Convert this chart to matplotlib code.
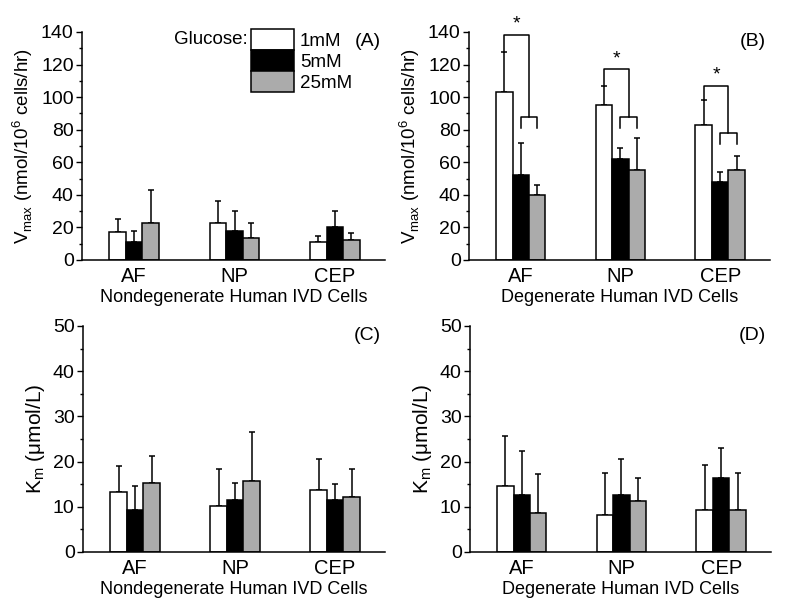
import matplotlib
matplotlib.use("Agg")
import matplotlib.pyplot as plt
import numpy as np
from matplotlib.ticker import MultipleLocator

plt.rcParams['font.family'] = ['Liberation Sans', 'DejaVu Sans']
plt.rcParams['font.size'] = 12

cells = ['AF', 'NP', 'CEP']
glucose = ['1mM', '5mM', '25mM']
colors = ['white', 'black', '#ababab']

# Vmax (nmol/10^6 cells/hr), rows = glucose level, cols = cell type
vmax_nd = [[17, 23, 11], [11, 18, 20], [23, 13.5, 12]]
vmax_nd_err = [[8, 13, 4], [7, 12, 10], [20, 9.5, 4.5]]
vmax_d = [[103, 95, 83], [52, 62, 48], [40, 55, 55]]
vmax_d_err = [[25, 12, 15], [20, 7, 6], [6, 20, 9]]
# Km (umol/L)
km_nd = [[13.2, 10.1, 13.8], [9.3, 11.6, 11.6], [15.3, 15.8, 12.1]]
km_nd_err = [[5.8, 8.2, 6.8], [5.4, 3.7, 3.4], [5.9, 10.7, 6.3]]
km_d = [[14.7, 8.1, 9.4], [12.7, 12.7, 16.3], [8.6, 11.2, 9.4]]
km_d_err = [[11.0, 9.3, 9.8], [9.6, 7.8, 6.8], [8.6, 5.1, 8.0]]

# significance brackets in panel B: big bracket top, small bracket top
big_top = [138, 117, 107]
small_top = [88, 88, 78]

W, H = 800, 616
fig = plt.figure(figsize=(W / 100, H / 100), dpi=100)

def px_axes(l, r, top, bot):
    return fig.add_axes([l / W, 1 - bot / H, (r - l) / W, (bot - top) / H])

bw = 0.165
x = np.arange(len(cells))

def panel(ax, vals, errs, ymax, major, minor, ylabel, xlabel, tag):
    for i in range(3):
        ax.bar(x + (i - 1) * bw, vals[i], bw, color=colors[i], edgecolor='black',
               linewidth=1.1, label=glucose[i], zorder=2)
        ax.errorbar(x + (i - 1) * bw, vals[i], yerr=[np.zeros(3), errs[i]], fmt='none',
                    ecolor='black', elinewidth=1.1, capsize=2.5, capthick=1.1, zorder=1)
    ax.set_xlim(-0.52, 2.5)
    ax.set_ylim(0, ymax)
    ax.yaxis.set_major_locator(MultipleLocator(major))
    ax.yaxis.set_minor_locator(MultipleLocator(minor))
    ax.set_xticks(x)
    ax.set_xticklabels(cells, fontsize=14.5)
    ax.tick_params(axis='x', length=0, pad=5)
    ax.tick_params(axis='y', which='major', length=4, width=1, labelsize=14, pad=2)
    ax.tick_params(axis='y', which='minor', length=2, width=1)
    for s in ['top', 'right']:
        ax.spines[s].set_visible(False)
    for s in ['left', 'bottom']:
        ax.spines[s].set_linewidth(1.1)
    ax.set_xlabel(xlabel, fontsize=13, labelpad=2)
    ax.set_ylabel(ylabel, fontsize=13.5, labelpad=4)
    ax.text(0.985, 0.96, tag, transform=ax.transAxes, ha='right', va='center', fontsize=14)

axA = px_axes(82, 385, 32, 260)
axB = px_axes(469, 770, 32, 260)
axC = px_axes(83, 385, 326, 552)
axD = px_axes(470, 771, 326, 552)

vlab = r'V$_\mathregular{max}$ (nmol/10$^\mathregular{6}$ cells/hr)'
klab = r'$\mathregular{K_m}$ ($\mathregular{\mu}$mol/L)'
panel(axA, vmax_nd, vmax_nd_err, 140, 20, 10, vlab, 'Nondegenerate Human IVD Cells', '(A)')
panel(axB, vmax_d, vmax_d_err, 140, 20, 10, vlab, 'Degenerate Human IVD Cells', '(B)')
panel(axC, km_nd, km_nd_err, 50, 10, 5, klab, 'Nondegenerate Human IVD Cells', '(C)')
panel(axD, km_d, km_d_err, 50, 10, 5, klab, 'Degenerate Human IVD Cells', '(D)')
axC.yaxis.label.set_size(15)
axD.yaxis.label.set_size(15)

# brackets on panel B
for j in range(3):
    xw = x[j] - bw
    xs0, xs1 = x[j], x[j] + bw
    xm = (xs0 + xs1) / 2
    wt = vmax_d[0][j] + vmax_d_err[0][j]
    axB.plot([xs0, xs0, xs1, xs1], [small_top[j] - 7, small_top[j], small_top[j], small_top[j] - 7],
             color='black', lw=1.1, clip_on=False)
    axB.plot([xw, xw, xm, xm], [wt, big_top[j], big_top[j], small_top[j]],
             color='black', lw=1.1, clip_on=False)
    axB.text((xw + xm) / 2, big_top[j] + 1.5, '*', ha='center', va='bottom', fontsize=14)

leg = axA.legend(loc='upper left', bbox_to_anchor=(251 / W, 1 - 29 / H),
                 bbox_transform=fig.transFigure, frameon=False, borderpad=0,
                 borderaxespad=0, handlelength=2.3, handleheight=1.35,
                 labelspacing=0, handletextpad=0.3, fontsize=13.5)
fig.text(248 / W, 1 - 40 / H, 'Glucose:', ha='right', va='center', fontsize=13.5)

fig.savefig('out.png', dpi=100)
